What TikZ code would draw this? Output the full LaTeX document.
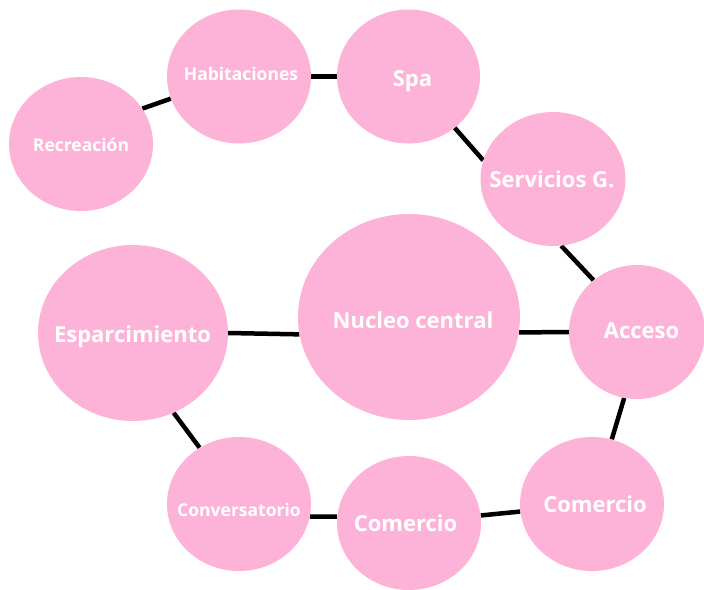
\documentclass[tikz,border=0pt]{standalone}
\usepackage{fontspec}
\setmainfont{Open Sans}
\usetikzlibrary{shapes.geometric,backgrounds}
\definecolor{bubble}{HTML}{FDB3D8}
\tikzset{
  bub/.style={ellipse, fill=bubble, draw=none, inner sep=0pt},
  lbl/.style={anchor=base, inner sep=0pt, text=white},
  big/.style={font=\bfseries\fontsize{22}{26}\selectfont},
  small/.style={font=\bfseries\fontsize{17.5}{21}\selectfont},
  link/.style={line width=4.5pt, black},
}
\begin{document}
\begin{tikzpicture}[x=1pt,y=-1pt]
\useasboundingbox (0,0) rectangle (704,589);
\node[bub, minimum width=144pt, minimum height=134pt] (rec) at (81,144) {};
\node[bub, minimum width=144pt, minimum height=134pt] (hab) at (239,76.5) {};
\node[bub, minimum width=143pt, minimum height=134pt] (spa) at (408.5,76.5) {};
\node[bub, minimum width=145pt, minimum height=134pt] (ser) at (553,179) {};
\node[bub, minimum width=222pt, minimum height=206pt] (nuc) at (409,317) {};
\node[bub, minimum width=136pt, minimum height=134pt] (acc) at (637,332) {};
\node[bub, minimum width=190pt, minimum height=176pt] (esp) at (133,333) {};
\node[bub, minimum width=144pt, minimum height=134pt] (con) at (239,504) {};
\node[bub, minimum width=144pt, minimum height=134pt] (cmm) at (409,523) {};
\node[bub, minimum width=144pt, minimum height=134pt] (cmr) at (592,504) {};
\begin{scope}[on background layer]
\draw[link] (rec.30) -- (hab.-162);
\draw[link] (hab.0) -- (spa.180);
\draw[link] (spa.-48) -- (ser.165);
\draw[link] (ser.-83) -- (acc.130);
\draw[link] (nuc.-8) -- (acc.180);
\draw[link] (esp.0) -- (nuc.-171);
\draw[link] (esp.-63) -- (con.125);
\draw[link] (con.-10) -- (cmm.175);
\draw[link] (cmm.6) -- (cmr.-174);
\draw[link] (acc.-101) -- (cmr.73);
\end{scope}
\node[lbl, small] (rec-l) at (81,151) {Recreación};
\node[lbl, small] (hab-l) at (241,80) {Habitaciones};
\node[lbl, big] (spa-l) at (412.5,86) {Spa};
\node[lbl, big] (ser-l) at (552,187) {Servicios G.};
\node[lbl, big] (nuc-l) at (413,328) {Nucleo central};
\node[lbl, big] (acc-l) at (641.5,338) {Acceso};
\node[lbl, big] (esp-l) at (132.5,342) {Esparcimiento};
\node[lbl, small] (con-l) at (239,516) {Conversatorio};
\node[lbl, big] (cmm-l) at (405.5,531) {Comercio};
\node[lbl, big] (cmr-l) at (595,512) {Comercio};
\end{tikzpicture}
\end{document}
